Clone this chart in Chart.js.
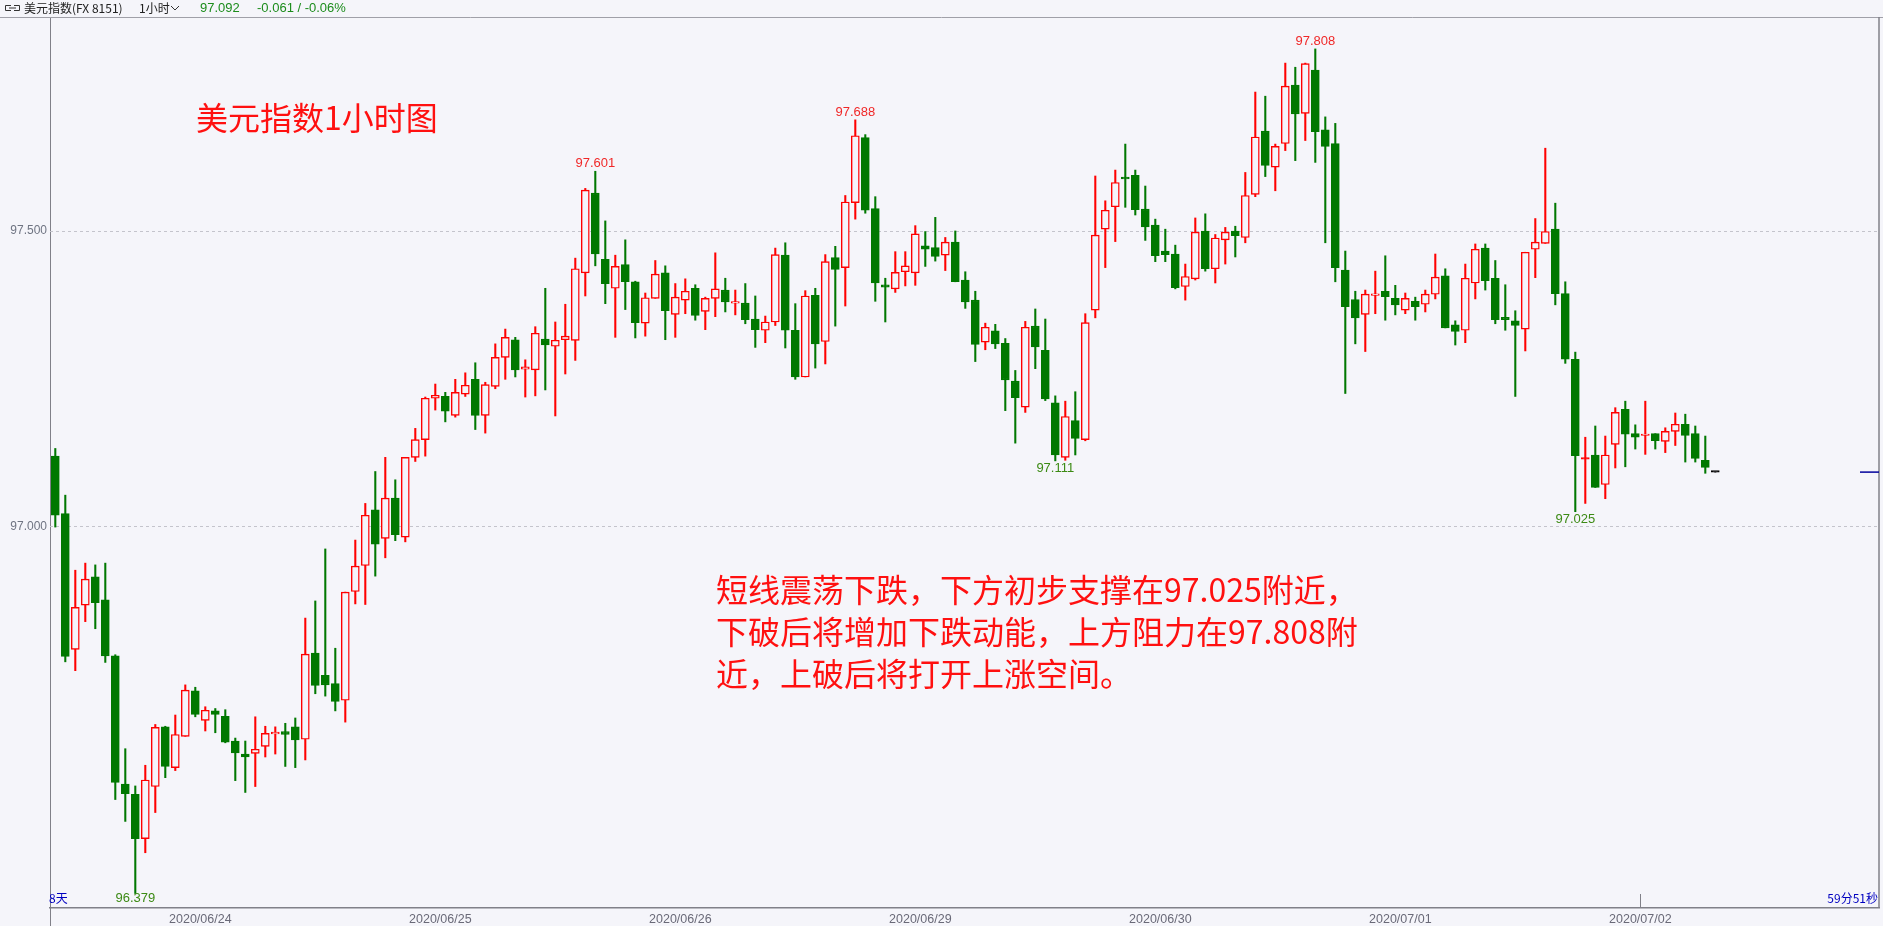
<!DOCTYPE html>
<html lang="zh-CN">
<head>
<meta charset="utf-8">
<title>美元指数1小时图</title>
<script src="https://cdn.jsdelivr.net/npm/chart.js@4.4.1/dist/chart.umd.min.js"></script>
<style>
  html, body { margin: 0; padding: 0; background: #f5f5fa; overflow: hidden; }
  #wrap { position: relative; width: 1883px; height: 926px; }
</style>
</head>
<body>
<div id="wrap"><canvas id="kChart"></canvas></div>
<script>
// 美元指数 1小时K线 (开 / 高 / 低 / 收)，最后一根为正在形成的K线
const opens = [
  97.119, 97.022, 96.792, 96.867, 96.915, 96.876, 96.781, 96.564, 96.547, 96.472,
  96.560, 96.661, 96.592, 96.645, 96.722, 96.672, 96.688, 96.679, 96.637, 96.615,
  96.616, 96.628, 96.649, 96.653, 96.661, 96.640, 96.786, 96.748, 96.734, 96.706,
  96.890, 96.934, 97.028, 96.980, 97.048, 96.982, 97.117, 97.147, 97.217, 97.220,
  97.188, 97.224, 97.249, 97.188, 97.237, 97.286, 97.316, 97.266, 97.265, 97.317,
  97.305, 97.316, 97.315, 97.429, 97.564, 97.452, 97.403, 97.443, 97.414, 97.344,
  97.386, 97.429, 97.359, 97.383, 97.403, 97.364, 97.386, 97.400, 97.378, 97.378,
  97.351, 97.332, 97.346, 97.459, 97.332, 97.253, 97.391, 97.313, 97.455, 97.438,
  97.548, 97.658, 97.538, 97.409, 97.402, 97.431, 97.429, 97.475, 97.472, 97.459,
  97.481, 97.417, 97.383, 97.312, 97.331, 97.310, 97.246, 97.202, 97.339, 97.298,
  97.209, 97.117, 97.179, 97.147, 97.366, 97.503, 97.541, 97.591, 97.594, 97.537,
  97.510, 97.466, 97.461, 97.406, 97.419, 97.500, 97.436, 97.485, 97.500, 97.489,
  97.562, 97.669, 97.608, 97.648, 97.747, 97.699, 97.772, 97.671, 97.648, 97.434,
  97.384, 97.359, 97.391, 97.398, 97.386, 97.366, 97.381, 97.376, 97.393, 97.424,
  97.341, 97.332, 97.412, 97.471, 97.420, 97.354, 97.348, 97.334, 97.469, 97.479,
  97.503, 97.394, 97.283, 97.114, 97.121, 97.071, 97.139, 97.198, 97.157, 97.154,
  97.157, 97.144, 97.161, 97.173, 97.157, 97.112, 97.092
];
const highs = [
  97.132, 97.053, 96.926, 96.938, 96.935, 96.938, 96.783, 96.624, 96.561, 96.596,
  96.665, 96.662, 96.681, 96.732, 96.728, 96.695, 96.692, 96.690, 96.642, 96.637,
  96.678, 96.662, 96.661, 96.667, 96.676, 96.845, 96.874, 96.962, 96.794, 96.889,
  96.977, 97.039, 97.093, 97.117, 97.079, 97.117, 97.166, 97.219, 97.241, 97.227,
  97.249, 97.260, 97.277, 97.244, 97.309, 97.334, 97.320, 97.282, 97.338, 97.403,
  97.346, 97.376, 97.454, 97.572, 97.601, 97.517, 97.459, 97.485, 97.415, 97.395,
  97.450, 97.441, 97.411, 97.419, 97.409, 97.388, 97.463, 97.420, 97.400, 97.411,
  97.390, 97.356, 97.471, 97.480, 97.377, 97.399, 97.403, 97.460, 97.474, 97.560,
  97.688, 97.663, 97.558, 97.420, 97.465, 97.465, 97.509, 97.499, 97.523, 97.489,
  97.500, 97.431, 97.398, 97.344, 97.342, 97.318, 97.264, 97.347, 97.368, 97.351,
  97.221, 97.212, 97.228, 97.360, 97.593, 97.551, 97.603, 97.647, 97.603, 97.576,
  97.520, 97.503, 97.476, 97.444, 97.522, 97.529, 97.494, 97.506, 97.508, 97.599,
  97.735, 97.728, 97.647, 97.784, 97.777, 97.784, 97.808, 97.693, 97.682, 97.466,
  97.398, 97.400, 97.432, 97.458, 97.408, 97.395, 97.388, 97.400, 97.461, 97.436,
  97.348, 97.444, 97.478, 97.478, 97.450, 97.409, 97.365, 97.464, 97.521, 97.640,
  97.547, 97.414, 97.295, 97.151, 97.170, 97.153, 97.201, 97.212, 97.172, 97.212,
  97.157, 97.167, 97.192, 97.190, 97.170, 97.153, 97.092
];
const lows = [
  96.999, 96.771, 96.756, 96.839, 96.827, 96.770, 96.538, 96.501, 96.379, 96.448,
  96.516, 96.575, 96.587, 96.645, 96.678, 96.654, 96.651, 96.634, 96.570, 96.550,
  96.560, 96.610, 96.615, 96.594, 96.592, 96.605, 96.717, 96.713, 96.688, 96.669,
  96.869, 96.868, 96.916, 96.947, 96.976, 96.974, 97.110, 97.119, 97.197, 97.177,
  97.185, 97.220, 97.164, 97.158, 97.233, 97.249, 97.253, 97.219, 97.221, 97.231,
  97.187, 97.258, 97.281, 97.390, 97.441, 97.377, 97.320, 97.367, 97.319, 97.322,
  97.386, 97.316, 97.320, 97.360, 97.349, 97.333, 97.355, 97.363, 97.358, 97.343,
  97.303, 97.311, 97.340, 97.302, 97.249, 97.253, 97.268, 97.275, 97.339, 97.373,
  97.520, 97.530, 97.381, 97.346, 97.396, 97.407, 97.408, 97.440, 97.449, 97.433,
  97.414, 97.369, 97.279, 97.299, 97.301, 97.196, 97.141, 97.193, 97.267, 97.213,
  97.111, 97.112, 97.121, 97.145, 97.353, 97.438, 97.482, 97.540, 97.527, 97.484,
  97.448, 97.448, 97.402, 97.383, 97.417, 97.432, 97.412, 97.444, 97.456, 97.480,
  97.558, 97.592, 97.568, 97.636, 97.619, 97.653, 97.616, 97.480, 97.414, 97.225,
  97.309, 97.296, 97.360, 97.349, 97.358, 97.360, 97.349, 97.363, 97.385, 97.336,
  97.307, 97.311, 97.385, 97.400, 97.343, 97.332, 97.220, 97.297, 97.421, 97.479,
  97.375, 97.276, 97.025, 97.039, 97.066, 97.047, 97.099, 97.101, 97.131, 97.122,
  97.131, 97.125, 97.137, 97.109, 97.109, 97.090, 97.092
];
const closes = [
  97.019, 96.780, 96.863, 96.911, 96.871, 96.781, 96.567, 96.548, 96.472, 96.571,
  96.660, 96.594, 96.648, 96.723, 96.682, 96.689, 96.682, 96.635, 96.617, 96.610,
  96.623, 96.650, 96.652, 96.648, 96.639, 96.784, 96.731, 96.732, 96.704, 96.889,
  96.933, 97.019, 96.970, 97.048, 96.986, 97.117, 97.147, 97.217, 97.222, 97.195,
  97.227, 97.239, 97.188, 97.240, 97.286, 97.320, 97.265, 97.270, 97.327, 97.307,
  97.315, 97.322, 97.436, 97.569, 97.461, 97.411, 97.440, 97.414, 97.345, 97.387,
  97.427, 97.365, 97.388, 97.398, 97.357, 97.386, 97.402, 97.380, 97.380, 97.350,
  97.333, 97.346, 97.460, 97.332, 97.253, 97.390, 97.309, 97.448, 97.435, 97.549,
  97.661, 97.535, 97.412, 97.405, 97.430, 97.441, 97.495, 97.469, 97.457, 97.481,
  97.414, 97.380, 97.308, 97.337, 97.309, 97.248, 97.218, 97.337, 97.304, 97.216,
  97.121, 97.186, 97.149, 97.345, 97.493, 97.535, 97.582, 97.588, 97.536, 97.507,
  97.458, 97.460, 97.404, 97.423, 97.498, 97.436, 97.488, 97.498, 97.492, 97.560,
  97.659, 97.611, 97.643, 97.745, 97.698, 97.783, 97.668, 97.643, 97.438, 97.372,
  97.353, 97.393, 97.393, 97.389, 97.375, 97.386, 97.372, 97.393, 97.422, 97.336,
  97.330, 97.420, 97.469, 97.416, 97.350, 97.350, 97.340, 97.464, 97.481, 97.499,
  97.394, 97.283, 97.120, 97.114, 97.066, 97.121, 97.193, 97.156, 97.151, 97.156,
  97.145, 97.161, 97.173, 97.154, 97.115, 97.100, 97.092
];

// 日期刻度：每天第一根K线的序号
const dateLabels = ['2020/06/24', '2020/06/25', '2020/06/26', '2020/06/29', '2020/06/30', '2020/07/01', '2020/07/02'];
const dayStart = [15, 39, 63, 87, 111, 135, 159];
const yTicks = [97.0, 97.5];

// 标注最高 / 最低价的K线
const markHigh = [54, 80, 126];
const markLow = [8, 100, 152];

const RED = '#ff0000';
const GREEN = '#007800';
const BG = '#f5f5fa';
const last = opens.length - 1;

function lineColor(i) {
  if (i === last) return '#000000';
  return closes[i] >= opens[i] ? RED : GREEN;
}
function fillColor(i) {
  if (i === last) return '#000000';
  return closes[i] > opens[i] ? BG : lineColor(i);
}

const idx = opens.map((_, i) => i);

// 背景、虚线网格、文字注释
const decorPlugin = {
  id: 'decor',
  beforeDraw(chart) {
    const c = chart.ctx;
    c.save();
    c.fillStyle = BG;
    c.fillRect(0, 0, chart.width, chart.height);
    c.restore();
  },
  beforeDatasetsDraw(chart) {
    const c = chart.ctx, a = chart.chartArea, y = chart.scales.y;
    c.save();
    c.strokeStyle = '#c4c4cc';
    c.lineWidth = 1;
    c.setLineDash([3, 3]);
    yTicks.forEach(v => {
      const py = Math.round(y.getPixelForValue(v)) + 0.5;
      c.beginPath();
      c.moveTo(a.left, py);
      c.lineTo(a.right, py);
      c.stroke();
    });
    c.restore();
  },
  afterDraw(chart) {
    const c = chart.ctx, a = chart.chartArea;
    const x = chart.scales.x, y = chart.scales.y;
    c.save();

    // 顶部标题栏
    c.strokeStyle = '#a0a0a8';
    c.lineWidth = 1;
    c.beginPath();
    c.moveTo(0, 17.5); c.lineTo(chart.width, 17.5);
    c.stroke();
    // 右边框、左轴延伸
    c.strokeStyle = '#808088';
    c.lineWidth = 1.5;
    c.beginPath();
    c.moveTo(a.right, 17); c.lineTo(a.right, a.bottom);
    c.stroke();
    c.lineWidth = 1;
    c.beginPath();
    c.moveTo(a.left + 0.5, a.bottom); c.lineTo(a.left + 0.5, chart.height);
    c.stroke();

    c.textBaseline = 'middle';
    c.textAlign = 'left';
    c.fillStyle = '#333';
    c.lineWidth = 1;
    c.strokeStyle = '#333';
    // 链接图标
    c.beginPath();
    c.moveTo(11, 5.5); c.lineTo(5.5, 5.5); c.lineTo(5.5, 10.5); c.lineTo(11, 10.5);
    c.moveTo(14, 5.5); c.lineTo(19.5, 5.5); c.lineTo(19.5, 10.5); c.lineTo(14, 10.5);
    c.moveTo(9, 8); c.lineTo(16, 8);
    c.stroke();
    c.font = '12px "Noto Sans CJK SC"';
    c.fillStyle = '#222';
    c.fillText('美元指数(FX 8151)', 24, 8);
    c.fillText('1小时', 139, 8);
    c.beginPath();
    c.moveTo(171, 6); c.lineTo(175, 10); c.lineTo(179, 6);
    c.stroke();
    c.font = '13px "Liberation Sans"';
    c.fillStyle = '#1c8c1c';
    c.fillText('97.092', 200, 8);
    c.fillText('-0.061 / -0.06%', 257, 8);

    // 最高 / 最低价标注
    c.font = '13px "Liberation Sans"';
    c.textAlign = 'center';
    c.fillStyle = '#f02828';
    markHigh.forEach(i => {
      c.fillText(highs[i].toFixed(3), x.getPixelForValue(i), y.getPixelForValue(highs[i]) - 7.5);
    });
    c.fillStyle = '#3c8a14';
    markLow.forEach(i => {
      const py = Math.min(y.getPixelForValue(lows[i]) + 7.5, a.bottom - 10);
      c.fillText(lows[i].toFixed(3), x.getPixelForValue(i), py);
    });

    // 左下 / 右下信息
    c.font = '12px "Noto Sans CJK SC"';
    c.fillStyle = '#0000c0';
    c.textAlign = 'left';
    c.fillText('8天', a.left - 1, a.bottom - 10);
    c.textAlign = 'right';
    c.fillText('59分51秒', a.right - 1, a.bottom - 10);

    // 当前价位标记
    const pNow = y.getPixelForValue(closes[last]);
    c.strokeStyle = '#00009c';
    c.lineWidth = 1.5;
    c.beginPath();
    c.moveTo(a.right - 19, pNow); c.lineTo(a.right, pNow);
    c.stroke();

    // 当日分隔刻度
    const pDay = Math.round(x.getPixelForValue(dayStart[dayStart.length - 1] - 0.5)) + 0.5;
    c.strokeStyle = '#808088';
    c.lineWidth = 1;
    c.beginPath();
    c.moveTo(pDay, a.bottom - 14); c.lineTo(pDay, a.bottom);
    c.stroke();

    // 文字注释
    c.fillStyle = '#ff1010';
    c.textAlign = 'left';
    c.font = '32px "Noto Sans CJK SC"';
    c.fillText('美元指数1小时图', 196, 118);
    c.fillText('短线震荡下跌，下方初步支撑在97.025附近，', 716, 590);
    c.fillText('下破后将增加下跌动能，上方阻力在97.808附', 716, 632);
    c.fillText('近，上破后将打开上涨空间。', 716, 674);

    c.restore();
  }
};

const ctx = document.getElementById('kChart');
new Chart(ctx, {
  type: 'bar',
  data: {
    datasets: [
      {
        // K线实体
        label: '实体',
        data: idx.map(i => ({ x: i, y: [opens[i], closes[i]] })),
        backgroundColor: idx.map(fillColor),
        borderColor: idx.map(lineColor),
        borderWidth: 1.4,
        borderSkipped: false,
        barThickness: 8,
        minBarLength: 1.5,
        grouped: false,
        order: 0
      },
      {
        // 上下影线
        label: '影线',
        data: idx.map(i => ({ x: i, y: [lows[i], highs[i]] })),
        backgroundColor: idx.map(lineColor),
        borderWidth: 0,
        barThickness: 1.4,
        grouped: false,
        order: 1
      }
    ]
  },
  options: {
    responsive: true,
    maintainAspectRatio: false,
    animation: false,
    layout: { padding: { left: 0, right: 4, top: 17, bottom: 0 } },
    plugins: {
      legend: { display: false },
      tooltip: { enabled: false }
    },
    scales: {
      x: {
        type: 'linear',
        min: -0.53,
        max: 182.37,
        offset: false,
        afterFit: s => { s.height = 18; },
        afterBuildTicks: s => { s.ticks = dayStart.map(d => ({ value: d - 0.5 })); },
        grid: { display: false, drawTicks: false },
        border: { display: true, color: '#808088', width: 1.5 },
        ticks: {
          autoSkip: false,
          maxRotation: 0,
          padding: 4,
          color: '#6a6a78',
          font: { family: '"Liberation Sans"', size: 12.5 },
          callback: (v, i) => dateLabels[i]
        }
      },
      y: {
        min: 96.3545,
        max: 97.862,
        beginAtZero: false,
        afterFit: s => { s.width = 50; },
        afterBuildTicks: s => { s.ticks = yTicks.map(v => ({ value: v })); },
        grid: { display: false, drawTicks: false },
        border: { display: true, color: '#808088', width: 1 },
        ticks: {
          padding: 3,
          color: '#6f7482',
          font: { family: '"Liberation Sans"', size: 12 },
          callback: v => v.toFixed(3)
        }
      }
    }
  },
  plugins: [decorPlugin]
});
</script>
</body>
</html>
